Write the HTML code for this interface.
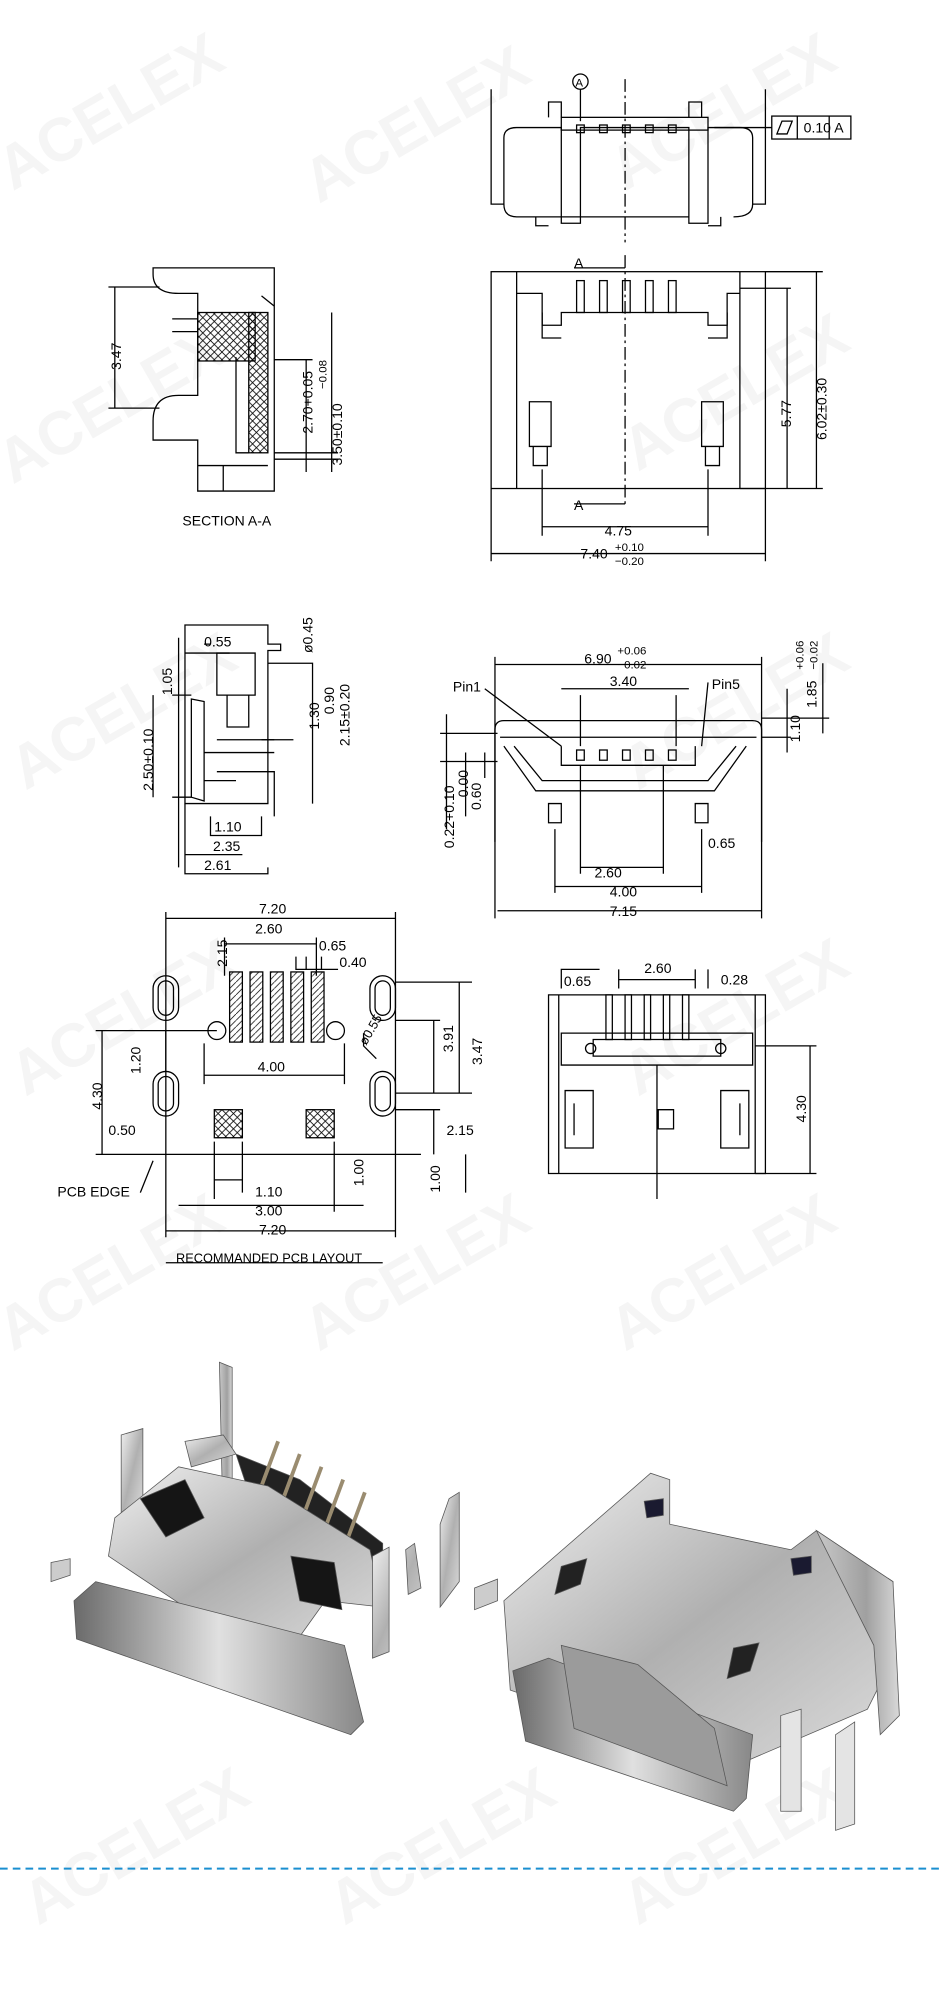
<!DOCTYPE html>
<html><head><meta charset="utf-8">
<style>
html,body{margin:0;padding:0;background:#fff;}
svg{display:block;}
text{font-family:"Liberation Sans",sans-serif;fill:#000;}
</style></head><body>
<svg width="944" height="2000" viewBox="0 0 740 1568" preserveAspectRatio="none" xmlns="http://www.w3.org/2000/svg">
<defs>
<linearGradient id="m1" x1="0" y1="0" x2="1" y2="1"><stop offset="0" stop-color="#f0f0f0"/><stop offset=".5" stop-color="#b0b0b0"/><stop offset="1" stop-color="#dcdcdc"/></linearGradient>
<linearGradient id="m2" x1="0" y1="0" x2="1" y2="0"><stop offset="0" stop-color="#6a6a6a"/><stop offset=".5" stop-color="#e0e0e0"/><stop offset="1" stop-color="#888"/></linearGradient>
<linearGradient id="m3" x1="0" y1="0" x2="1" y2="0"><stop offset="0" stop-color="#c8c8c8"/><stop offset=".6" stop-color="#a0a0a0"/><stop offset="1" stop-color="#d8d8d8"/></linearGradient>
<pattern id="hx" width="6" height="6" patternUnits="userSpaceOnUse"><path d="M0 0L6 6M6 0L0 6" stroke="#000" stroke-width=".6"/></pattern>
<pattern id="hx2" width="5" height="5" patternUnits="userSpaceOnUse"><path d="M0 5L5 0" stroke="#000" stroke-width=".6"/></pattern>
</defs>
<rect width="740" height="1568" fill="#fff"/>
<g fill="#000" opacity=".04" font-size="48" font-weight="bold">
<text transform="translate(10,150) rotate(-30)">ACELEX</text>
<text transform="translate(250,160) rotate(-30)">ACELEX</text>
<text transform="translate(490,150) rotate(-30)">ACELEX</text>
<text transform="translate(10,380) rotate(-30)">ACELEX</text>
<text transform="translate(500,370) rotate(-30)">ACELEX</text>
<text transform="translate(20,620) rotate(-30)">ACELEX</text>
<text transform="translate(500,620) rotate(-30)">ACELEX</text>
<text transform="translate(20,860) rotate(-30)">ACELEX</text>
<text transform="translate(500,860) rotate(-30)">ACELEX</text>
<text transform="translate(10,1060) rotate(-30)">ACELEX</text>
<text transform="translate(250,1060) rotate(-30)">ACELEX</text>
<text transform="translate(490,1060) rotate(-30)">ACELEX</text>
<text transform="translate(30,1510) rotate(-30)">ACELEX</text>
<text transform="translate(270,1510) rotate(-30)">ACELEX</text>
<text transform="translate(500,1510) rotate(-30)">ACELEX</text>
</g>
<g fill="none" stroke="#000" stroke-width="1">
<path d="M385 70V160H395V108Q395 100 405 100H440V175H455V100H540V175H555V100H580Q590 100 590 108V160H600V70"/>
<path d="M395 160Q395 170 405 170H445M575 170Q590 170 590 160M445 170H540"/>
<rect x="440" y="92" width="115" height="10"/>
<path d="M430 92V80H440V92M540 92V80H550V92"/>
<g><rect x="452" y="98" width="6" height="6"/><rect x="470" y="98" width="6" height="6"/><rect x="488" y="98" width="6" height="6"/><rect x="506" y="98" width="6" height="6"/><rect x="524" y="98" width="6" height="6"/></g>
<path d="M420 170V177H430M555 177H565V170"/>
<path d="M490 62V190" stroke-dasharray="10 3 2 3"/>
<circle cx="455" cy="64" r="6"/><path d="M455 70V95"/>
<path d="M560 100H605"/>
<rect x="605" y="91" width="62" height="18"/><path d="M625 91V109M650 91V109"/>
<path d="M609 105L613 95H621L617 105Z"/>
<rect x="385" y="213" width="215" height="170"/>
<path d="M405 213V383M580 213V383"/>
<path d="M405 230H425V255H440V245H555V255H570V230H580"/>
<path d="M425 245V265H440M555 265H570V245"/>
<g><rect x="452" y="220" width="6" height="25"/><rect x="470" y="220" width="6" height="25"/><rect x="488" y="220" width="6" height="25"/><rect x="506" y="220" width="6" height="25"/><rect x="524" y="220" width="6" height="25"/></g>
<path d="M415 315H432V350H415Z M418 350V365H429V350 M550 315H567V350H550Z M553 350V365H564V350"/>
<path d="M490 200V395" stroke-dasharray="10 3 2 3"/>
<path d="M450 210H490M450 395H490"/>
<path d="M600 213H645M580 226H620M600 383H645M580 383H620"/>
<path d="M640 213V383M617 226V383"/>
<path d="M425 368V420M555 368V420M425 413H555"/>
<path d="M385 383V440M600 383V440M385 434H600"/>
<path d="M120 210H215V385H155V345H120V330Q120 310 140 310H155V230H140Q120 230 120 215Z"/>
<path d="M135 250H155M135 260H155"/>
<rect x="155" y="245" width="45" height="38" fill="url(#hx)"/>
<rect x="195" y="245" width="15" height="110" fill="url(#hx)"/>
<path d="M185 280V355H195M215 240L205 232"/>
<path d="M155 365H210M175 365V385"/>
<path d="M85 225H125M85 320H125M90 225V320"/>
<path d="M215 282H245M215 355H265M215 360H265M240 282V370M260 245V370"/>
<path d="M145 490H210V505H220V510H210V630H145Z"/>
<path d="M150 548L160 550V628L150 625Z"/>
<path d="M170 512H200V545H170Z M178 545V570H195V545"/>
<path d="M170 580H215M170 605H215V640M160 590H215" />
<path d="M205 580L230 580"/>
<path d="M140 500V680M210 520H245V630M160 612H185M135 545H150M135 625H150M120 545V625"/>
<path d="M165 640V655H205V640M145 630V670H190M145 670V685H210V680"/>
<path d="M145 512H180M160 505H165"/>
<path d="M388 572Q388 565 395 565H590Q597 565 597 572V660"/>
<path d="M388 572V660M392 578H593"/>
<path d="M395 585L420 620H560L585 585"/>
<path d="M403 585L425 612H555L577 585"/>
<path d="M440 585V600H545V585"/>
<g><rect x="452" y="588" width="6" height="8"/><rect x="470" y="588" width="6" height="8"/><rect x="488" y="588" width="6" height="8"/><rect x="506" y="588" width="6" height="8"/><rect x="524" y="588" width="6" height="8"/></g>
<path d="M430 630H440V645H430Z M545 630H555V645H545Z"/>
<path d="M388 515V720M597 515V720M388 521H597M435 650V700M550 650V700M435 695H550M455 600V685M520 600V685M455 680H520"/>
<path d="M440 540H540M455 545V585M530 545V585"/>
<path d="M597 563H650M597 578H620M617 540V590M645 520V575"/>
<path d="M345 575H390M345 597H390M350 560V650M365 590V640M380 590V610"/>
<path d="M380 540L440 585M550 585L555 535"/>
<path d="M390 714H597"/>
<rect x="120" y="765" width="20" height="35" rx="10"/><rect x="124" y="769" width="12" height="27" rx="6"/>
<rect x="290" y="765" width="20" height="35" rx="10"/><rect x="294" y="769" width="12" height="27" rx="6"/>
<rect x="120" y="840" width="20" height="35" rx="10"/><rect x="124" y="844" width="12" height="27" rx="6"/>
<rect x="290" y="840" width="20" height="35" rx="10"/><rect x="294" y="844" width="12" height="27" rx="6"/>
<g fill="url(#hx2)"><rect x="180" y="762" width="10" height="55"/><rect x="196" y="762" width="10" height="55"/><rect x="212" y="762" width="10" height="55"/><rect x="228" y="762" width="10" height="55"/><rect x="244" y="762" width="10" height="55"/></g>
<circle cx="170" cy="808" r="7"/><circle cx="263" cy="808" r="7"/>
<rect x="168" y="870" width="22" height="22" fill="url(#hx)"/><rect x="240" y="870" width="22" height="22" fill="url(#hx)"/>
<path d="M130 715V970M310 715V970M130 720H310M176 735V765M248 735V765M176 740H248M232 750V760H265M240 750V760M252 750V760"/>
<path d="M160 818V850M270 818V850M160 843H270"/>
<path d="M310 770H370M310 857H370M360 770V857M340 800V857M310 800H345"/>
<path d="M75 808H170M75 905H330M80 808V905M120 808H130V840"/>
<path d="M310 870H345M340 870V905M365 905V935M190 895V935M168 895V940M262 895V950M168 925H190M140 945H285M130 965H310"/>
<path d="M285 810V820L295 830"/>
<path d="M110 935L120 910"/>
<path d="M130 990H300"/>
<path d="M430 780H600V920H430Z"/>
<path d="M438 780V920M592 780V920M440 810H590V835H440Z"/>
<path d="M465 815H565V828H465Z"/>
<g><rect x="475" y="780" width="5" height="35"/><rect x="490" y="780" width="5" height="35"/><rect x="505" y="780" width="5" height="35"/><rect x="520" y="780" width="5" height="35"/><rect x="535" y="780" width="5" height="35"/></g>
<path d="M443 855H465V900H443Z M565 855H587V900H565Z M450 865V890M580 865V890"/>
<path d="M516 870H528V885H516Z M515 835V940"/>
<circle cx="463" cy="822" r="4"/><circle cx="565" cy="822" r="4"/>
<path d="M440 775V760H470M485 760V775M545 760V775M555 760V775M485 768H545M592 820H640M592 920H640M635 820V920"/>
<path d="M0 1465H740" stroke="#1a8fd0" stroke-width="1.5" stroke-dasharray="6 4"/>
</g>
<g font-size="11">
<text x="451" y="68" font-size="9">A</text>
<text x="630" y="104">0.10</text><text x="654" y="104">A</text>
<text x="450" y="210">A</text><text x="450" y="400">A</text>
<text x="474" y="420">4.75</text>
<text x="455" y="438">7.40</text><text x="482" y="432" font-size="9">+0.10</text><text x="482" y="443" font-size="9">−0.20</text>
<text transform="translate(620,335) rotate(-90)">5.77</text>
<text transform="translate(648,345) rotate(-90)">6.02±0.30</text>
<text transform="translate(95,290) rotate(-90)">3.47</text>
<text transform="translate(245,340) rotate(-90)">2.70+0.05</text>
<text transform="translate(256,305) rotate(-90)" font-size="9">−0.08</text>
<text transform="translate(268,365) rotate(-90)">3.50±0.10</text>
<text x="143" y="412">SECTION A-A</text>
<text x="160" y="507">0.55</text>
<text transform="translate(245,512) rotate(-90)">ø0.45</text>
<text transform="translate(135,545) rotate(-90)">1.05</text>
<text transform="translate(120,620) rotate(-90)">2.50±0.10</text>
<text transform="translate(250,572) rotate(-90)">1.30</text>
<text transform="translate(262,560) rotate(-90)">0.90</text>
<text transform="translate(274,585) rotate(-90)">2.15±0.20</text>
<text x="168" y="652">1.10</text><text x="167" y="667">2.35</text><text x="160" y="682">2.61</text>
<text x="458" y="520">6.90</text><text x="484" y="513" font-size="9">+0.06</text><text x="484" y="524" font-size="9">−0.02</text>
<text x="478" y="538">3.40</text>
<text x="355" y="542">Pin1</text><text x="558" y="540">Pin5</text>
<text transform="translate(640,555) rotate(-90)">1.85</text>
<text transform="translate(630,525) rotate(-90)" font-size="9">+0.06</text>
<text transform="translate(641,525) rotate(-90)" font-size="9">−0.02</text>
<text transform="translate(627,582) rotate(-90)">1.10</text>
<text transform="translate(356,665) rotate(-90)">0.22+0.10</text>
<text transform="translate(367,625) rotate(-90)">0.00</text>
<text transform="translate(377,635) rotate(-90)">0.60</text>
<text x="555" y="665">0.65</text>
<text x="466" y="688">2.60</text><text x="478" y="703">4.00</text><text x="478" y="718">7.15</text>
<text x="203" y="716">7.20</text>
<text x="200" y="732">2.60</text>
<text transform="translate(178,758) rotate(-90)">2.15</text>
<text x="250" y="745">0.65</text><text x="266" y="758">0.40</text>
<text transform="translate(110,842) rotate(-90)">1.20</text>
<text x="202" y="840">4.00</text>
<text transform="translate(287,820) rotate(-60)" font-size="10">ø0.55</text>
<text transform="translate(355,825) rotate(-90)">3.91</text>
<text transform="translate(378,835) rotate(-90)">3.47</text>
<text transform="translate(80,870) rotate(-90)">4.30</text>
<text x="85" y="890">0.50</text>
<text x="350" y="890">2.15</text>
<text transform="translate(285,930) rotate(-90)">1.00</text>
<text transform="translate(345,935) rotate(-90)">1.00</text>
<text x="45" y="938">PCB EDGE</text>
<text x="200" y="938">1.10</text><text x="200" y="953">3.00</text><text x="203" y="968">7.20</text>
<text x="138" y="990" font-size="10">RECOMMANDED PCB LAYOUT</text>
<text x="442" y="773">0.65</text><text x="505" y="763">2.60</text><text x="565" y="772">0.28</text>
<text transform="translate(632,880) rotate(-90)">4.30</text>
</g>
<!-- PHOTOS -->
<g stroke="#555" stroke-width=".6">
<!-- left connector -->
<path d="M172 1068L182 1072V1160L174 1158Z" fill="url(#m3)"/>
<path d="M95 1125L112 1120V1180L95 1190Z" fill="url(#m1)"/>
<path d="M145 1130L175 1125L185 1140L150 1150Z" fill="url(#m1)"/>
<path d="M185 1140L235 1160L300 1210L300 1225L250 1210L195 1170Z" fill="#222"/>
<g stroke="#9a8c70" stroke-width="3"><path d="M218 1130L205 1165M235 1140L222 1175M252 1150L239 1185M269 1160L256 1195M286 1170L273 1205"/></g>
<path d="M90 1190L140 1150L210 1165L290 1215L300 1260L255 1255L230 1290L160 1270L85 1220Z" fill="url(#m1)"/>
<path d="M110 1175L145 1160L160 1190L130 1205Z M228 1220L262 1225L268 1262L235 1255Z" fill="#151515"/>
<path d="M58 1255L75 1240L270 1290L285 1350L275 1360L60 1285Z" fill="url(#m2)"/>
<path d="M292 1220L305 1213V1295L292 1300Z M318 1215L325 1210L330 1245L320 1250Z" fill="url(#m1)"/>
<path d="M352 1175L360 1170V1240L345 1260L345 1195Z" fill="url(#m1)"/>
<path d="M40 1225L55 1222V1235L40 1240Z" fill="#ccc"/>
<!-- right connector -->
<path d="M395 1255L510 1155L525 1160V1195L620 1215L640 1200L700 1240L700 1300L680 1340L575 1385L400 1325Z" fill="url(#m1)"/>
<path d="M640 1200L700 1240L705 1345L690 1360L685 1290Z" fill="url(#m3)"/>
<path d="M402 1310L430 1300L590 1360L585 1410L575 1420L412 1365Z" fill="url(#m2)"/>
<path d="M440 1290L500 1305L560 1355L570 1400L450 1355Z" fill="#9b9b9b"/>
<path d="M655 1360L670 1350V1430L655 1435Z M612 1345L628 1340V1420L612 1420Z" fill="#e4e4e4"/>
<path d="M505 1177L520 1175V1188L507 1190Z M620 1222L636 1220V1233L622 1235Z" fill="#1a1a30"/>
<path d="M440 1228L460 1222L455 1242L435 1250Z M575 1292L595 1288L588 1310L570 1316Z" fill="#222"/>
<path d="M372 1245L390 1238V1255L372 1262Z" fill="#ccc"/>
</g>
</svg>
</body></html>
